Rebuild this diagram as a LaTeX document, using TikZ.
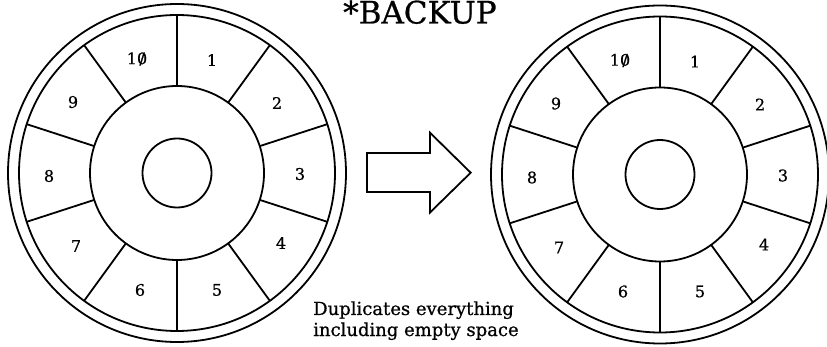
\documentclass[tikz,border=0pt]{standalone}
\usepackage{fontspec}
\setmainfont{DejaVu Serif}[FakeBold=0.7]
\newcommand{\slz}{{\ooalign{0\cr\hidewidth/\hidewidth\cr}}}
\tikzset{
  ring/.style={line width=1.8pt},
  divider/.style={line width=1.8pt},
  lab/.style={inner sep=0pt, font=\fontsize{16}{18}\selectfont},
  caption/.style={inner sep=0pt, anchor=base west, font=\fontsize{18}{21}\selectfont},
  bigarrow/.style={line width=1.8pt, line join=miter},
}
\begin{document}
\begin{tikzpicture}[x=1pt,y=-1pt]
\useasboundingbox (0,0) rectangle (827,347);
\fill[white] (0,0) rectangle (827,347);
\coordinate (L) at (177,173);
\coordinate (R) at (660,174.5);
\foreach \c in {L,R}{
  \draw[ring] (\c) circle[radius=169pt];
  \draw[ring] (\c) circle[radius=158pt];
  \draw[ring] (\c) circle[radius=87pt];
  \draw[ring] (\c) circle[radius=34.5pt];
  \foreach \a in {90,54,18,-18,-54,-90,-126,-162,162,126}{
    \draw[divider] ([shift={(\a:87pt)}]\c) -- ([shift={(\a:158pt)}]\c);
  }
  \foreach \k/\dx/\dy/\t in {1/35/-113/1,2/100/-70/2,3/123/1/3,4/104/70/4,5/40/117/5,
      6/-37/117/6,7/-101/73/7,8/-128/3/8,9/-104/-71/9,10/-40/-114/1\slz}{
    \node[lab] (\c-\k) at ([shift={(\dx,\dy)}]\c) {\t};
  }
}
\node[inner sep=0pt, anchor=base west, font=\fontsize{31}{36}\selectfont] (title) at (343,23.5) {*BACKUP};
\draw[bigarrow] (367,153) -- (430,153) -- (430,132.7) -- (470.7,172.7) -- (430,212.5) -- (430,192) -- (367,192) -- cycle;
\node[caption] (cap1) at (313,315) {Duplicates everything};
\node[caption] (cap2) at (313,336) {including empty space};
\end{tikzpicture}
\end{document}
